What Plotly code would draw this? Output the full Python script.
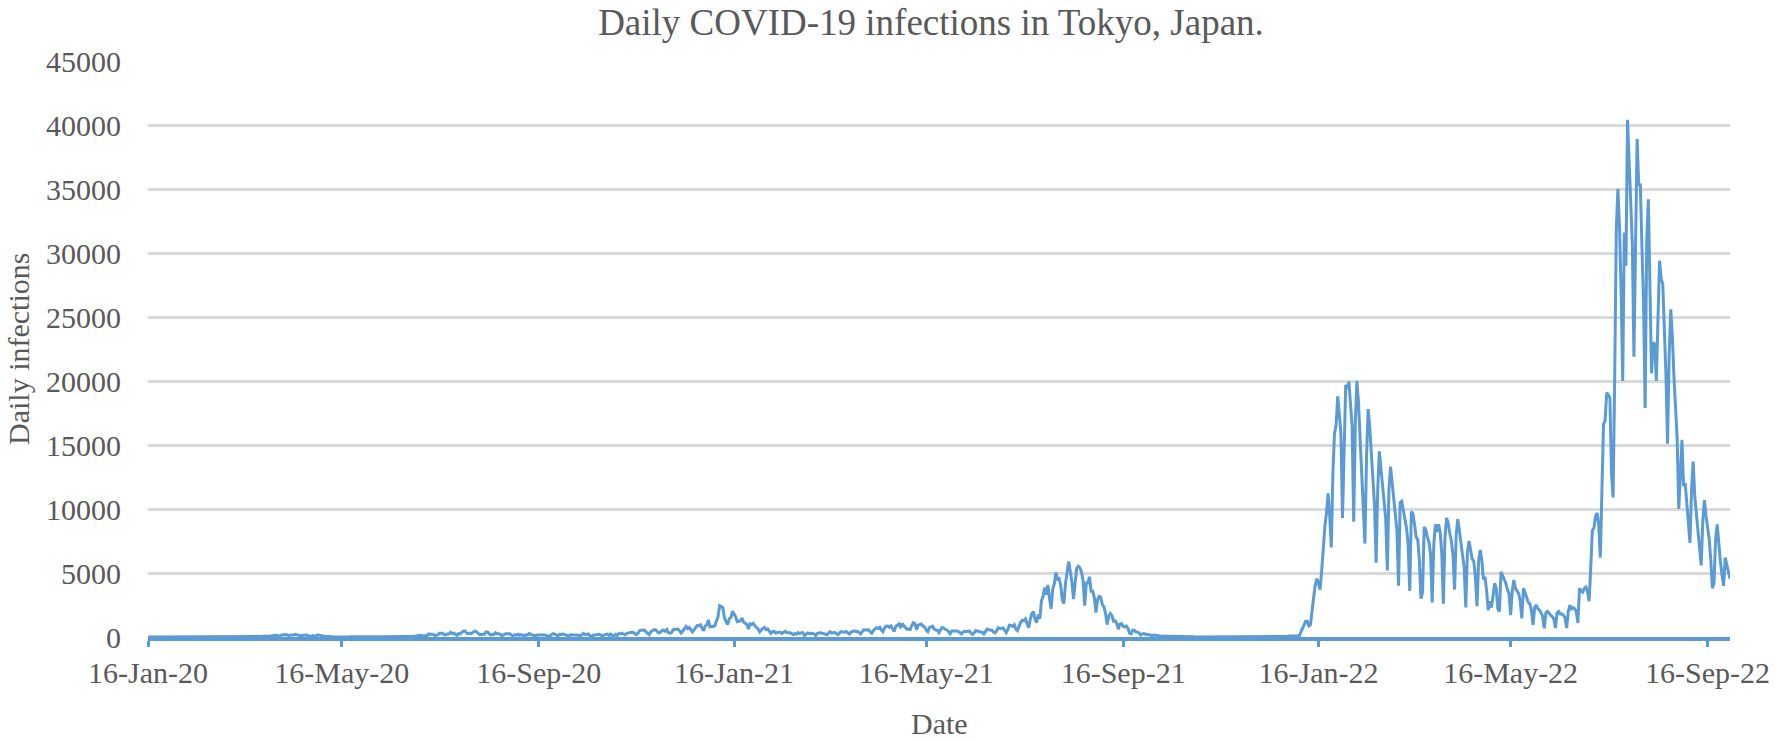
import pandas as pd
import plotly.graph_objects as go

# Casos diarios em Toquio (um array por mes)
jan_2020 = [0,0,0,0,0,0,0,0,1,0,0,0,0,0,1,0]
feb_2020 = [0,0,0,0,0,0,0,0,0,0,0,0,1,2,3,1,3,0,3,3,3,1,3,2,1,4,1,1,3]
mar_2020 = [2,1,0,3,1,2,6,2,2,1,2,6,2,7,7,6,5,2,1,10,8,11,7,16,41,47,40,63,68,13,78]
apr_2020 = [66,97,89,116,143,83,80,144,178,189,197,166,91,161,127,149,206,181,107,101,123,132,134,161,103,72,39,112,47,46]
may_2020 = [165,154,91,87,58,38,23,39,36,22,15,28,10,30,9,14,5,10,5,5,11,3,2,14,8,10,11,15,22,14,5]
jun_2020 = [13,34,12,28,20,26,14,13,12,18,22,25,24,47,48,27,16,41,35,39,35,29,31,55,48,54,57,60,58,54]
jul_2020 = [67,107,124,131,111,102,106,75,224,243,206,206,119,143,165,286,293,290,188,168,237,238,366,260,295,239,131,266,250,367,463]
aug_2020 = [472,292,258,309,263,360,462,429,331,197,188,222,206,389,385,260,161,207,186,339,258,256,212,95,182,236,250,226,247,148,100]
sep_2020 = [170,141,211,136,181,116,80,170,149,276,187,146,146,77,163,163,172,220,218,162,98,88,59,195,270,227,144,78,212,194]
oct_2020 = [235,196,207,143,78,178,177,186,187,180,146,78,166,284,184,185,235,78,78,139,149,185,186,215,124,102,158,173,221,122,215]
nov_2020 = [116,87,209,122,269,242,294,189,157,293,317,393,374,352,255,180,298,493,534,522,539,391,314,186,401,481,570,561,418,311]
dec_2020 = [372,500,533,449,584,327,299,352,572,602,595,621,480,305,460,678,822,664,736,556,392,563,748,888,884,949,708,481,856,944,1337]
jan_2021 = [783,814,816,884,1278,1591,2447,2392,2268,1494,1219,970,1433,1502,2001,1809,1592,1204,1240,1274,1471,1175,1070,986,618,1026,973,1064,868,769,633]
feb_2021 = [393,556,676,734,577,639,429,276,412,434,307,369,370,371,266,378,445,353,352,327,272,178,275,213,340,270,337,329]
mar_2021 = [121,232,316,279,301,293,237,116,290,340,335,304,239,239,175,300,409,323,303,342,256,187,337,420,394,376,430,313,234,364,414]
apr_2021 = [475,440,446,355,249,399,555,545,537,570,421,306,510,591,729,667,759,543,405,711,843,861,759,876,635,425,828,925,1027,698]
may_2021 = [1050,879,708,609,621,591,907,1121,1032,573,925,969,1010,854,772,542,419,732,766,843,614,539,535,340,560,743,684,614,539,403,260]
jun_2021 = [471,487,508,472,436,351,235,369,440,439,435,467,304,209,337,501,452,453,388,376,236,435,619,570,562,534,386,317,476,714]
jul_2021 = [673,660,716,518,342,593,920,896,822,950,614,502,830,1149,1308,1271,1410,1008,727,1387,1832,1979,1359,1128,1763,1429,2848,3177,3865,3300,4058]
aug_2021 = [3058,2195,3709,4166,5042,4515,4566,4066,2884,2612,4200,4989,5908,5094,4295,2962,4377,5386,5534,5405,5074,4392,2447,4220,4228,4704,3581,3581,3081,1915,2909]
sep_2021 = [3168,3099,2539,2362,1853,968,1629,1834,1675,1242,1273,1067,611,1004,1052,831,782,862,685,302,253,537,531,382,383,302,154,248,267,218]
oct_2021 = [200,196,161,87,149,144,138,82,82,60,49,77,72,62,65,66,40,29,36,41,36,26,32,19,17,18,36,21,24,22,9]
nov_2021 = [9,13,29,17,25,19,14,18,13,21,28,33,15,18,11,20,19,28,21,23,20,21,6,21,9,22,23,8,8,24]
dec_2021 = [15,13,17,21,12,12,13,16,19,20,30,15,10,21,16,23,21,30,20,24,16,37,34,37,43,33,37,56,76,64,78]
jan_2022 = [78,84,103,79,390,641,922,1224,1223,871,962,2198,3124,4051,4561,4172,3709,5185,7377,8638,9699,11227,9468,7000,12813,15900,16538,18800,17433,15895,9300]
feb_2022 = [15500,19700,19400,19950,18200,16500,9000,16800,20000,18300,15500,13000,10700,7300,14000,17800,16400,14000,12000,10300,5800,11500,14500,13200,12000,11000,9200,5200]
mar_2022 = [11500,13300,12000,11000,10000,8300,4000,10500,10600,9800,9000,8500,7200,3600,9800,9600,8800,7800,7600,6000,3000,3500,8600,8400,7800,7400,6500,2700,7200,8800,8200]
apr_2022 = [8800,8200,6500,2600,7800,9300,8900,8100,7500,6400,3700,8000,9200,8300,7200,6600,5400,2300,6600,7500,6800,6100,5900,4700,2400,5900,6800,6000,4500,4700]
may_2022 = [3600,2100,2800,2300,3200,4200,3800,2200,2000,5100,4800,4500,4200,3700,3400,1700,3600,4450,3800,3600,3400,2800,1450,3800,3500,3100,2700,2600,2100,950,2300]
jun_2022 = [2500,2200,2100,1900,1600,680,1900,2000,1800,1700,1600,1400,700,1900,2000,1800,1800,1700,1500,700,2000,2500,2200,2300,2200,2000,1100,3800,3600,3500]
jul_2022 = [3800,3900,3600,2800,5300,8300,8500,9400,9700,8800,6200,11500,16600,16900,19100,18900,18700,12700,10900,20400,31900,35000,32000,27000,20000,31600,29000,40400,37000,34100,30700]
aug_2022 = [21900,30800,38900,35300,35400,30500,26200,17900,31000,34200,27000,20600,23000,22900,20000,24000,29400,28000,27600,24000,20500,15100,22000,25600,23500,20300,18000,15500,10000,13500,15400]
sep_2022 = [11800,12000,10500,8600,7350,11500,13700,11000,9500,8000,7000,5600,9000,10700,9500,8400,7650,6000,3800,4200,7600,8800,7000,5900,4850,4000,6200,5600,5100,4560]

meses = [
    ('2020-01-16', jan_2020), ('2020-02-01', feb_2020), ('2020-03-01', mar_2020),
    ('2020-04-01', apr_2020), ('2020-05-01', may_2020), ('2020-06-01', jun_2020),
    ('2020-07-01', jul_2020), ('2020-08-01', aug_2020), ('2020-09-01', sep_2020),
    ('2020-10-01', oct_2020), ('2020-11-01', nov_2020), ('2020-12-01', dec_2020),
    ('2021-01-01', jan_2021), ('2021-02-01', feb_2021), ('2021-03-01', mar_2021),
    ('2021-04-01', apr_2021), ('2021-05-01', may_2021), ('2021-06-01', jun_2021),
    ('2021-07-01', jul_2021), ('2021-08-01', aug_2021), ('2021-09-01', sep_2021),
    ('2021-10-01', oct_2021), ('2021-11-01', nov_2021), ('2021-12-01', dec_2021),
    ('2022-01-01', jan_2022), ('2022-02-01', feb_2022), ('2022-03-01', mar_2022),
    ('2022-04-01', apr_2022), ('2022-05-01', may_2022), ('2022-06-01', jun_2022),
    ('2022-07-01', jul_2022), ('2022-08-01', aug_2022), ('2022-09-01', sep_2022),
]

datas = []
casos = []
for inicio, valores in meses:
    datas.extend(pd.date_range(inicio, periods=len(valores), freq='D'))
    casos.extend(valores)

fonte = 'Liberation Serif'
cinza = '#595959'
azul = '#5b9bd5'

W, H = 1775, 742
ML, MR, MT, MB = 148, 45, 61, 105
larg = W - ML - MR
alt = H - MT - MB

#%%
fig = go.Figure()
fig.add_trace(go.Scatter(x=datas, y=casos, mode='lines', line=dict(color=azul, width=3), showlegend=False))
fig.update_layout(
    width=W, height=H,
    margin=dict(l=ML, r=MR, t=MT, b=MB),
    paper_bgcolor='white', plot_bgcolor='white',
    font=dict(family=fonte, color=cinza, size=30),
    title=dict(text='Daily COVID-19 infections in Tokyo, Japan.', font=dict(size=37, color=cinza, family=fonte),
               x=931/W, xanchor='center', y=1 - 22/H, yanchor='middle'),
    xaxis=dict(
        type='date',
        range=['2020-01-16', '2022-09-30'],
        tick0='2020-01-16', dtick='M4', tickformat='%d-%b-%y',
        ticks='outside', ticklen=6, tickwidth=3, tickcolor=azul,
        ticklabeloverflow='allow', automargin=False,
        showline=True, linecolor=azul, linewidth=4,
        showgrid=False, zeroline=False,
        tickfont=dict(size=30, color=cinza, family=fonte),
    ),
    yaxis=dict(
        range=[0, 45000], tick0=0, dtick=5000, tickformat='d',
        showgrid=True, gridcolor='#d9d9d9', gridwidth=3,
        zeroline=False, showline=False, ticks='',
        ticklabelstandoff=26, automargin=False,
        tickfont=dict(size=30, color=cinza, family=fonte),
    ),
    annotations=[
        dict(text='Date', xref='paper', yref='paper', x=0.5, y=-(723 - (H - MB)) / alt,
             xanchor='center', yanchor='middle', showarrow=False,
             font=dict(size=30, color=cinza, family=fonte)),
        dict(text='Daily infections', xref='paper', yref='paper', x=(18 - ML) / larg, y=0.5,
             xanchor='center', yanchor='middle', textangle=-90, showarrow=False,
             font=dict(size=30, color=cinza, family=fonte)),
    ],
)
# tira a margem padrao do body para a figura ocupar a janela inteira
fig.write_html('out.html', config={'displayModeBar': False},
               post_script="document.body.style.margin='0';")
